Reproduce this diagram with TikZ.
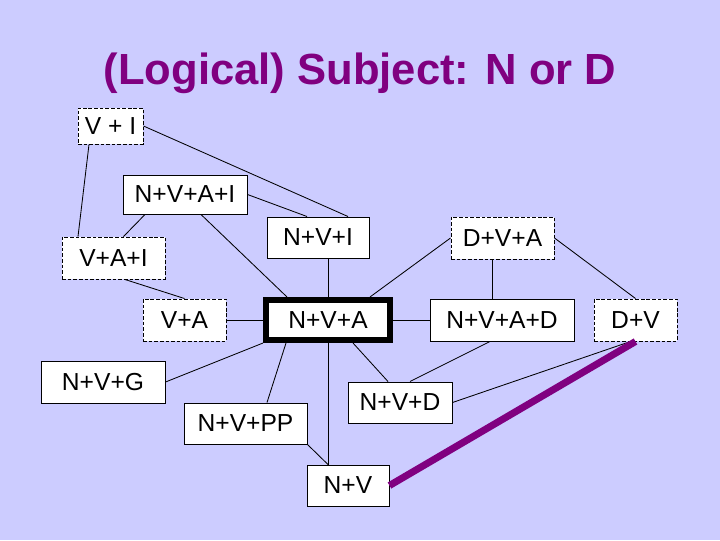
\documentclass[tikz,border=0pt]{standalone}
\usepackage{fontspec}
\setmainfont{Liberation Sans}
\usetikzlibrary{calc}
\definecolor{slidebg}{RGB}{204,204,255}
\definecolor{headpurple}{RGB}{128,0,128}

\begin{document}
\begin{tikzpicture}[x=0.025cm,y=-0.025cm,
	form/.style={draw=black,fill=white,line width=0.7pt,inner sep=0pt,
		font=\fontsize{17.5}{20}\selectfont},
	guess/.style={form,dash pattern=on 2.6pt off 1.4pt},
	boxsize/.style 2 args={minimum width=#1*0.025cm,minimum height=#2*0.025cm},
	link/.style={line width=0.6pt}
	]
	\fill[slidebg] (0,0) rectangle (720,540);
	\useasboundingbox (0,0) rectangle (720,540);
	
	\node[anchor=base,text=headpurple,
		font=\bfseries\fontsize{31}{36}\selectfont] (head) at (360,84)
		{(Logical) Subject: N or D};
	
	\node[guess,boxsize={65}{36}] (vi) at (110.5,126) {V + I};
	\node[form,boxsize={124}{39}] (nvai) at (185,194.5) {N+V+A+I};
	\node[guess,boxsize={103}{42}] (vai) at (113.5,258) {V+A+I};
	\node[form,boxsize={102}{41}] (nvi) at (318,237.5) {N+V+I};
	\node[guess,boxsize={103}{42}] (dva) at (502.5,238) {D+V+A};
	\node[guess,boxsize={83}{42}] (va) at (184.5,320) {V+A};
	\node[form,line width=4.3pt,boxsize={124}{40}] (nva) at (328,320) {N+V+A};
	\node[form,boxsize={144}{42}] (nvad) at (502,320) {N+V+A+D};
	\node[guess,boxsize={83}{42}] (dv) at (635.5,320) {D+V};
	\node[form,boxsize={124}{42}] (nvg) at (103,382) {N+V+G};
	\node[form,boxsize={123}{41}] (nvpp) at (245.5,423.5) {N+V+PP};
	\node[form,boxsize={104}{41}] (nvd) at (400,402.5) {N+V+D};
	\node[form,boxsize={82}{41}] (nv) at (348,485.5) {N+V};
	
	\draw[link] ($(vi.south)+(-21.5,0)$) -- ($(vai.north)+(-35.5,0)$);
	\draw[link] (vi.east) -- ($(nvi.north)+(30,0)$);
	\draw[link] (nvai.east) -- ($(nvi.north)+(-11,0)$);
	\draw[link] ($(nvai.south)+(-40,0)$) -- ($(vai.north)+(10,0)$);
	\draw[link] ($(nvai.south)+(16,0)$) -- ($(nva.north)+(-41,0)$);
	\draw[link] ($(vai.south)+(11.5,0)$) -- (va.north);
	\draw[link] (va.east) -- (nva.west);
	\draw[link] ($(nvi.south)+(10,0)$) -- (nva.north);
	\draw[link] ($(nva.north)+(42,0)$) -- (dva.west);
	\draw[link] (nva.east) -- (nvad.west);
	\draw[link] ($(dva.south)+(-10.5,0)$) -- ($(nvad.north)+(-10,0)$);
	\draw[link] (dva.east) -- (dv.north);
	\draw[link] (nva.south west) -- (nvg.east);
	\draw[link] ($(nva.south)+(-42,0)$) -- ($(nvpp.north)+(21.5,0)$);
	\draw[link] (nva.south) -- ($(nv.north)+(-20,0)$);
	\draw[link] ($(nva.south)+(25,0)$) -- ($(nvd.north)+(-12,0)$);
	\draw[link] ($(nvad.south)+(-12,0)$) -- ($(nvd.north)+(10,0)$);
	\draw[link] (nvd.east) -- ($(dv.south)+(-5,0)$);
	\draw[link] (nvpp.south east) -- ($(nv.north)+(-20,0)$);
	\draw[line width=5pt,headpurple] (nv.east) -- (dv.south);
\end{tikzpicture}
\end{document}
